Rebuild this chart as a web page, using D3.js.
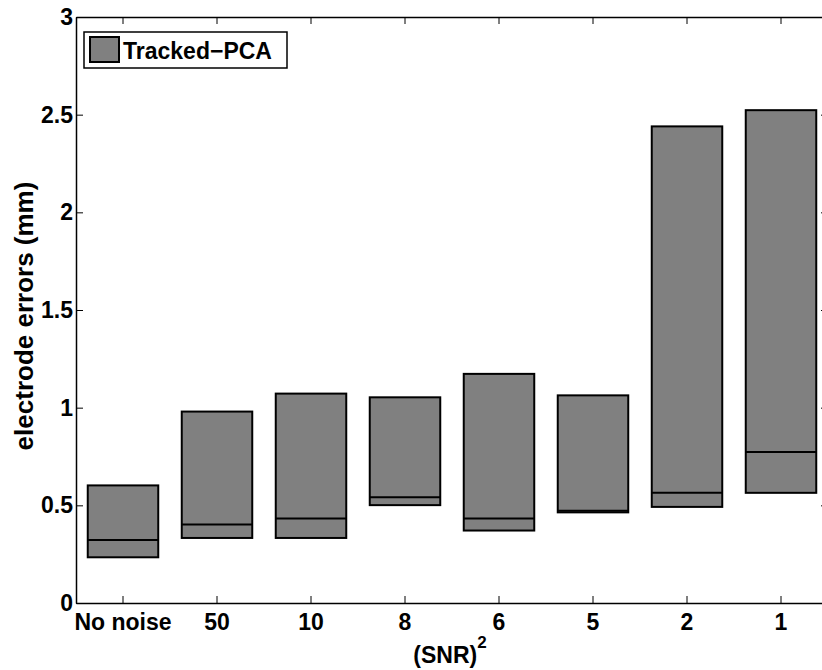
<!DOCTYPE html>
<head>
<meta charset="utf-8" />
</head>
<style>
body { margin: 0; background: #fff; }
svg { display: block; }
text { font-family: Arial, "Liberation Sans", Helvetica, sans-serif; font-weight: bold; fill: #000; }
</style>
<body>
<script src="https://cdn.jsdelivr.net/npm/d3@7"></script>
<script>
var categories = ["No noise", "50", "10", "8", "6", "5", "2", "1"];
var lows    = [0.234, 0.333, 0.333, 0.501, 0.371, 0.464, 0.492, 0.564];
var medians = [0.323, 0.402, 0.433, 0.542, 0.433, 0.472, 0.564, 0.773];
var highs   = [0.602, 0.980, 1.072, 1.053, 1.173, 1.063, 2.440, 2.523];
var yTicks  = [0, 0.5, 1, 1.5, 2, 2.5, 3];

var width = 822, height = 670;
var mLeft = 76, mTop = 17, mRight = 828, mBottom = 603;
var fs = 23;

var svg = d3.select("body").append("svg")
	.attr("width", width)
	.attr("height", height);

var x = d3.scaleBand()
	.domain(categories)
	.range([mLeft, mRight]);

var y = d3.scaleLinear()
	.domain([0, 3])
	.range([mBottom, mTop]);

var boxW = x.bandwidth() * 0.75;

var data = categories.map(function(c, i) {
	return {cat: c, lo: lows[i], med: medians[i], hi: highs[i]};
});

/* boxes */
var g = svg.append("g");
g.selectAll("rect.box")
	.data(data)
	.enter().append("rect")
	.attr("class", "box")
	.attr("x", function(d) { return x(d.cat) + (x.bandwidth() - boxW) / 2; })
	.attr("y", function(d) { return y(d.hi); })
	.attr("width", boxW)
	.attr("height", function(d) { return y(d.lo) - y(d.hi); })
	.attr("fill", "#808080")
	.attr("stroke", "#000")
	.attr("stroke-width", 2);

g.selectAll("line.med")
	.data(data)
	.enter().append("line")
	.attr("class", "med")
	.attr("x1", function(d) { return x(d.cat) + (x.bandwidth() - boxW) / 2; })
	.attr("x2", function(d) { return x(d.cat) + (x.bandwidth() + boxW) / 2; })
	.attr("y1", function(d) { return y(d.med); })
	.attr("y2", function(d) { return y(d.med); })
	.attr("stroke", "#000")
	.attr("stroke-width", 2);

/* axes */
var xAxis = d3.axisBottom(x).tickSizeInner(-7).tickSizeOuter(0).tickPadding(11);
var xTop = d3.axisTop(x).tickSizeInner(-7).tickSizeOuter(0).tickFormat("");
var yAxis = d3.axisLeft(y).tickValues(yTicks).tickSizeInner(-7).tickSizeOuter(0)
	.tickPadding(3).tickFormat(d3.format("~g"));
var yRight = d3.axisRight(y).tickValues(yTicks).tickSizeInner(-7).tickSizeOuter(0).tickFormat("");

function styleAxis(sel) {
	sel.attr("font-family", null).attr("font-size", fs);
	sel.select(".domain").attr("stroke", "#000").attr("stroke-width", 1.5);
	sel.selectAll(".tick line").attr("stroke", "#000").attr("stroke-width", 1);
	sel.selectAll(".tick text").attr("fill", "#000");
}

svg.append("g").attr("transform", "translate(0," + mBottom + ")").call(xAxis).call(styleAxis);
svg.append("g").attr("transform", "translate(0," + mTop + ")").call(xTop).call(styleAxis);
svg.append("g").attr("transform", "translate(" + mLeft + ",0)").call(yAxis).call(styleAxis);
svg.append("g").attr("transform", "translate(" + mRight + ",0)").call(yRight).call(styleAxis);

/* axis titles */
svg.append("text")
	.attr("transform", "translate(33,316) rotate(-90)")
	.attr("text-anchor", "middle")
	.attr("font-size", 26)
	.text("electrode errors (mm)");

var xl = svg.append("text")
	.attr("x", 450)
	.attr("y", 663)
	.attr("text-anchor", "middle")
	.attr("font-size", fs);
xl.append("tspan").text("(SNR)");
xl.append("tspan").attr("dy", -15).attr("font-size", 17).text("2");

/* legend */
var lg = svg.append("g").attr("transform", "translate(84,32)");
lg.append("rect")
	.attr("width", 203).attr("height", 36)
	.attr("fill", "#fff").attr("stroke", "#000").attr("stroke-width", 1.5);
lg.append("rect")
	.attr("x", 6).attr("y", 5).attr("width", 29).attr("height", 25)
	.attr("fill", "#808080").attr("stroke", "#000").attr("stroke-width", 2);
lg.append("text")
	.attr("x", 39).attr("y", 26.5)
	.attr("font-size", fs)
	.text("Tracked\u2212PCA");
</script>
</body>
